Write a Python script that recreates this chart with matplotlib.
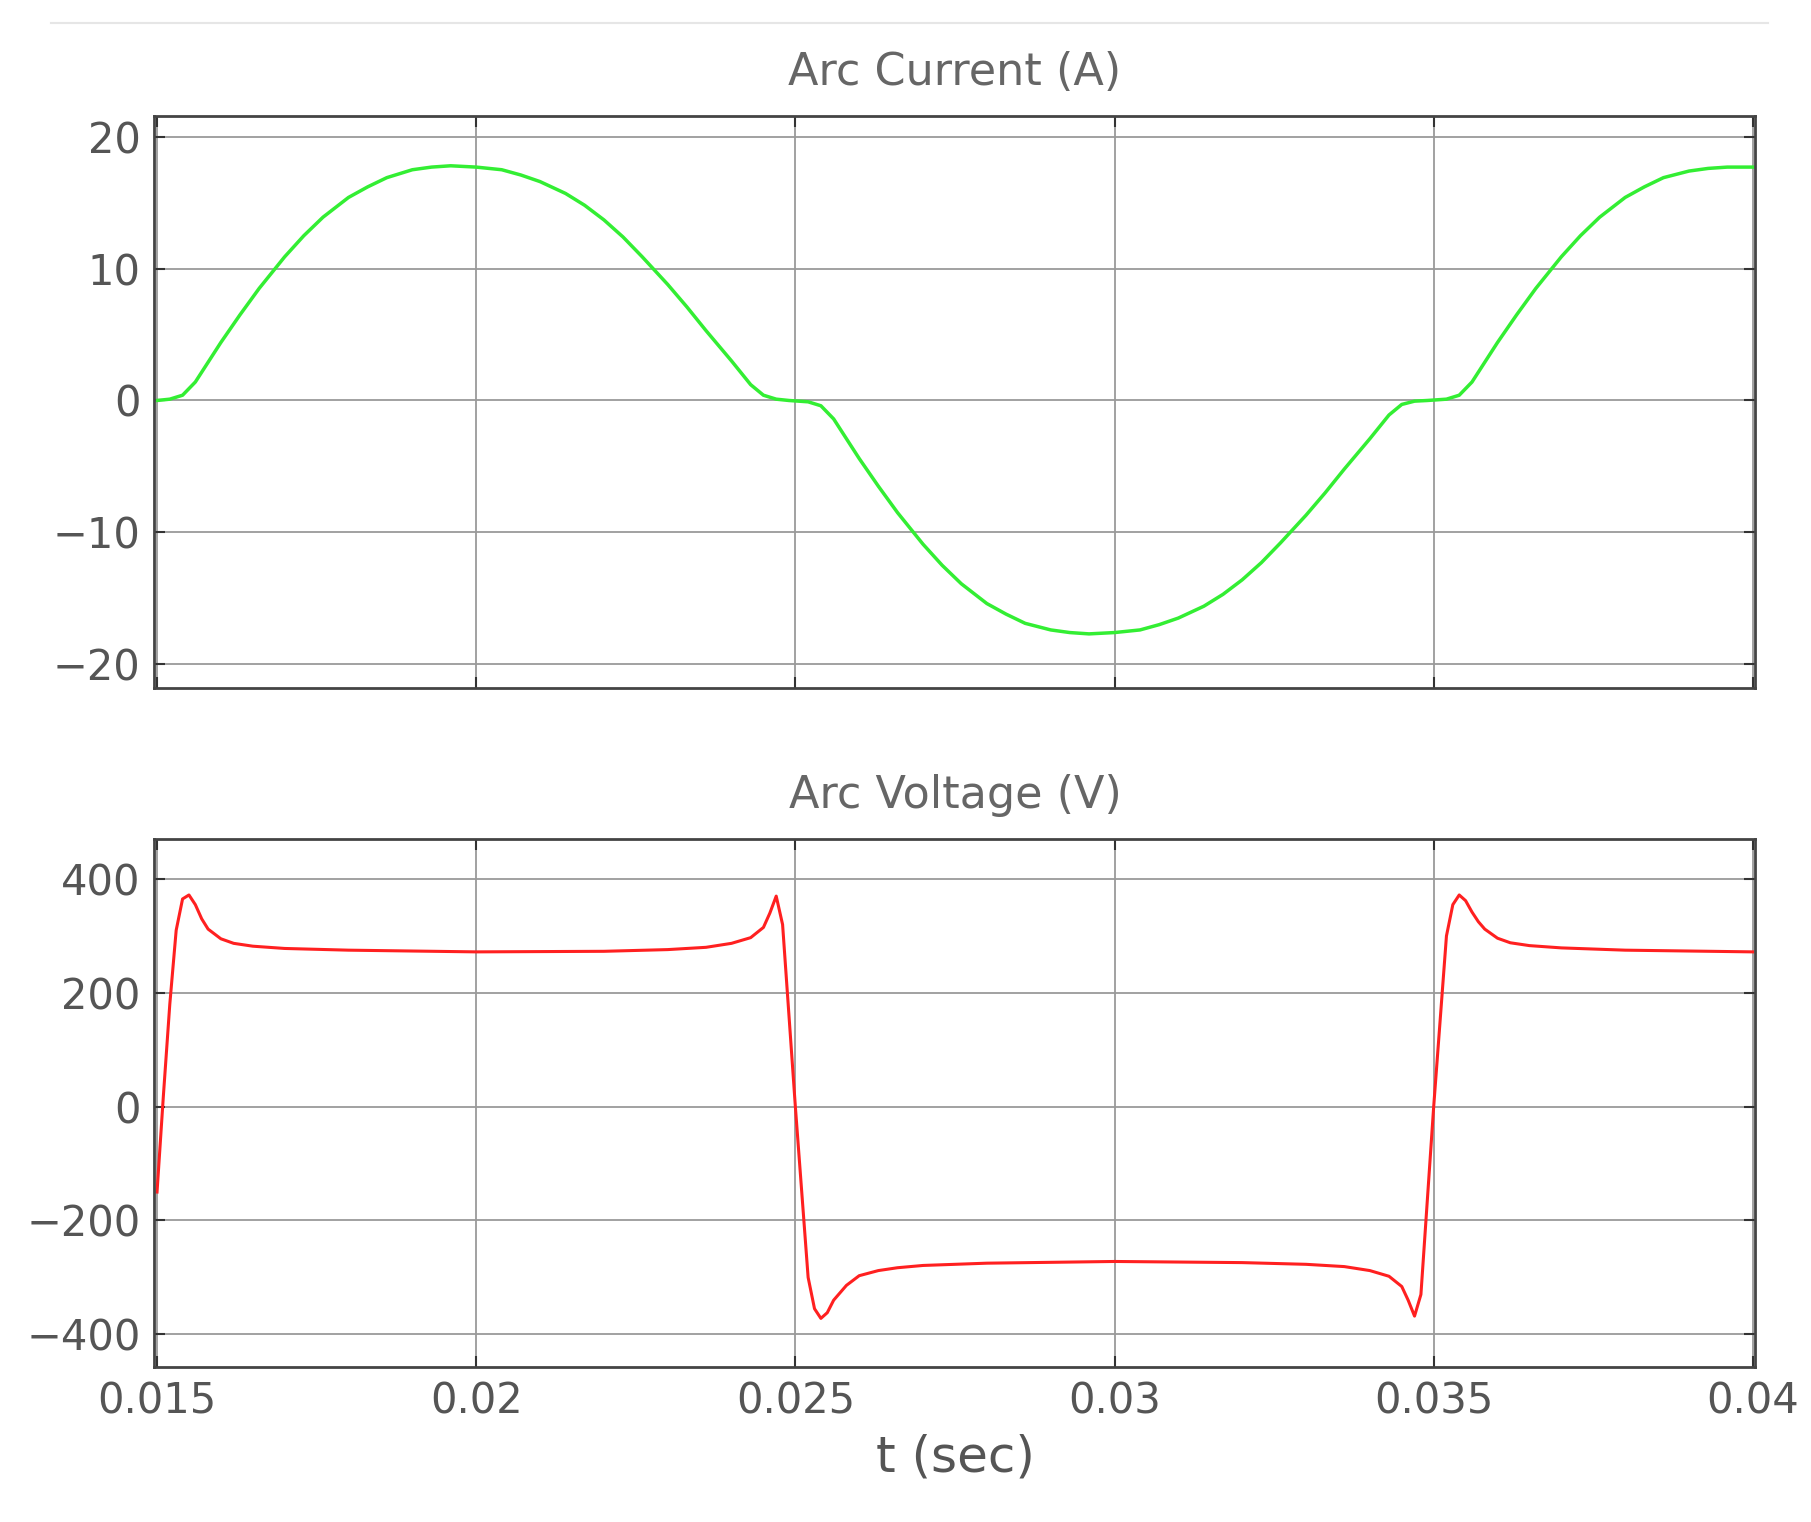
import matplotlib
matplotlib.use("Agg")
import matplotlib.pyplot as plt

t_cur = [0.015, 0.0152, 0.0154, 0.0156, 0.0158, 0.016, 0.0163, 0.0166, 0.017, 0.0173, 0.0176,
         0.018, 0.0183, 0.0186, 0.019, 0.0193, 0.0196, 0.02,
         0.0204, 0.0207, 0.021, 0.0214, 0.0217, 0.022, 0.0223, 0.0226, 0.023, 0.0233,
         0.0236, 0.024, 0.0243, 0.0245, 0.0247, 0.0249, 0.0252, 0.0254, 0.0256, 0.0258,
         0.026, 0.0263, 0.0266, 0.027, 0.0273, 0.0276, 0.028, 0.0283, 0.0286, 0.029,
         0.0293, 0.0296, 0.03, 0.0304, 0.0307, 0.031, 0.0314, 0.0317, 0.032, 0.0323,
         0.0326, 0.033, 0.0333, 0.0336, 0.034, 0.0343, 0.0345, 0.0347, 0.0349, 0.0352,
         0.0354, 0.0356, 0.0358, 0.036, 0.0363, 0.0366, 0.037, 0.0373, 0.0376, 0.038,
         0.0383, 0.0386, 0.039, 0.0393, 0.0396, 0.04]
i_cur = [0.0, 0.1, 0.4, 1.4, 2.9, 4.4, 6.5, 8.5, 10.9, 12.5, 13.9,
         15.4, 16.2, 16.9, 17.5, 17.7, 17.8, 17.7,
         17.5, 17.1, 16.6, 15.7, 14.8, 13.7, 12.4, 10.9, 8.8, 7.1,
         5.3, 3.0, 1.2, 0.4, 0.1, 0.0, -0.1, -0.4, -1.4, -2.9,
         -4.4, -6.5, -8.5, -10.9, -12.5, -13.9, -15.4, -16.2, -16.9, -17.4,
         -17.6, -17.7, -17.6, -17.4, -17.0, -16.5, -15.6, -14.7, -13.6, -12.3,
         -10.8, -8.7, -7.0, -5.2, -2.9, -1.1, -0.3, -0.05, 0.0, 0.1,
         0.4, 1.4, 2.9, 4.4, 6.5, 8.5, 10.9, 12.5, 13.9, 15.4,
         16.2, 16.9, 17.4, 17.6, 17.7, 17.7]

t_vol = [0.015, 0.0151, 0.0152, 0.0153, 0.0154, 0.0155, 0.0156, 0.0157, 0.0158, 0.016, 0.0162,
         0.0165, 0.017, 0.018, 0.02, 0.022, 0.023, 0.0236, 0.024, 0.0243, 0.0245, 0.0246,
         0.0247, 0.0248, 0.025, 0.0252, 0.0253, 0.0254, 0.0255, 0.0256, 0.0258, 0.026,
         0.0263, 0.0266, 0.027, 0.028, 0.03, 0.032, 0.033, 0.0336, 0.034, 0.0343,
         0.0345, 0.0346, 0.0347, 0.0348, 0.035, 0.0352, 0.0353, 0.0354, 0.0355, 0.0356,
         0.0357, 0.0358, 0.036, 0.0362, 0.0365, 0.037, 0.038, 0.04]
v_vol = [-150, 20, 180, 310, 365, 372, 355, 330, 312, 295, 287,
         282, 278, 275, 272, 273, 276, 280, 287, 297, 315, 340,
         370, 320, 0, -300, -355, -372, -362, -340, -314, -297,
         -288, -283, -279, -275, -272, -274, -277, -281, -288, -298,
         -316, -340, -368, -330, 0, 300, 355, 372, 362, 342, 325, 312,
         296, 288, 283, 279, 275, 272]

gray = "#555555"
fig = plt.figure(figsize=(18.11, 15.22), dpi=100)
ax1 = fig.add_axes([0.0853, 0.548, 0.884, 0.376])
ax2 = fig.add_axes([0.0853, 0.102, 0.884, 0.347])
fig.add_artist(plt.Line2D([0.028, 0.976], [0.985, 0.985], color="#e6e6e6", lw=1.5))

ax1.plot(t_cur, i_cur, color="#33ee33", lw=2.5)
ax2.plot(t_vol, v_vol, color="#ff2020", lw=2.2)

ax1.set_ylim(-21.8, 21.6)
ax1.set_yticks([-20, -10, 0, 10, 20])
ax2.set_ylim(-457, 471)
ax2.set_yticks([-400, -200, 0, 200, 400])
for ax in (ax1, ax2):
    ax.set_xlim(0.01496, 0.04004)
    ax.set_xticks([0.015, 0.02, 0.025, 0.03, 0.035, 0.04])
    ax.grid(True, color="#9a9a9a", lw=1.3)
    ax.tick_params(direction="in", length=8, width=1.5, top=True, right=True, pad=10,
                   labelsize=30, colors="#333333", labelcolor=gray)
    for s in ax.spines.values():
        s.set_color("#444444"); s.set_linewidth(2)
ax1.set_xticklabels([])
ax2.set_xticklabels(["0.015", "0.02", "0.025", "0.03", "0.035", "0.04"])
ax1.set_title("Arc Current (A)", fontsize=32, color="#666666", pad=22)
ax2.set_title("Arc Voltage (V)", fontsize=32, color="#666666", pad=22)
ax2.set_xlabel("t (sec)", fontsize=36, color=gray, labelpad=8)
fig.savefig("out.png", dpi=100, facecolor="white")
